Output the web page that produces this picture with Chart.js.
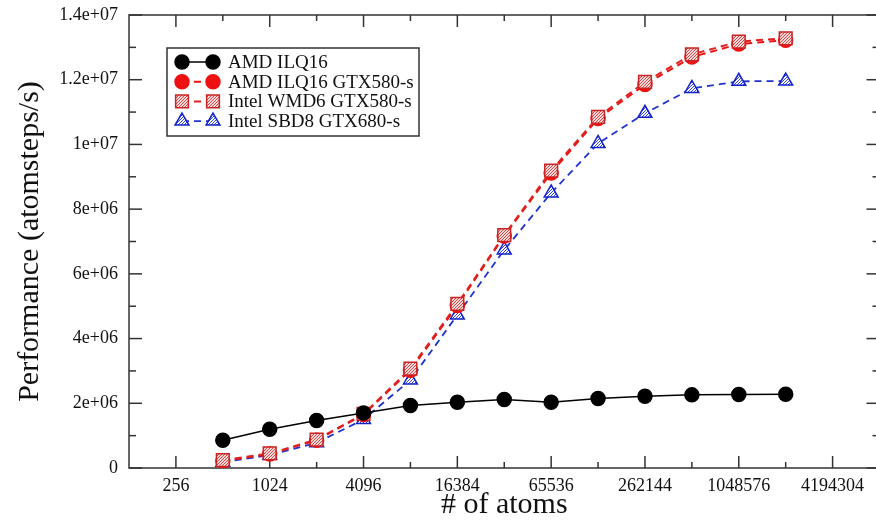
<!DOCTYPE html>
<html>
<head>
<meta charset="utf-8">
<script src="https://cdn.jsdelivr.net/npm/chart.js@4"></script>
<style>
  html, body { margin: 0; padding: 0; background: #fff; overflow: hidden; }
  #wrap { position: absolute; left: 0; top: 0; }
</style>
</head>
<body>
<div id="wrap"><canvas id="perfChart" width="890" height="520"></canvas></div>
<script>
// Chart data
const atoms = [512, 1024, 2048, 4096, 8192, 16384, 32768, 65536, 131072, 262144, 524288, 1048576, 2097152];
const amdIlq16 = [0.86e6, 1.2e6, 1.47e6, 1.7e6, 1.93e6, 2.03e6, 2.12e6, 2.03e6, 2.15e6, 2.22e6, 2.26e6, 2.27e6, 2.28e6];
const amdIlq16Gtx580 = [0.22e6, 0.43e6, 0.86e6, 1.65e6, 3.02e6, 5.02e6, 7.17e6, 9.12e6, 10.8e6, 11.85e6, 12.7e6, 13.1e6, 13.22e6];
const intelWmd6Gtx580 = [0.24e6, 0.45e6, 0.88e6, 1.67e6, 3.07e6, 5.07e6, 7.2e6, 9.19e6, 10.85e6, 11.93e6, 12.78e6, 13.18e6, 13.28e6];
const intelSbd8Gtx680 = [0.18e6, 0.4e6, 0.78e6, 1.5e6, 2.72e6, 4.73e6, 6.74e6, 8.5e6, 10.03e6, 10.96e6, 11.73e6, 11.95e6, 11.96e6];

const seriesNames = ['AMD ILQ16', 'AMD ILQ16 GTX580-s', 'Intel WMD6 GTX580-s', 'Intel SBD8 GTX680-s'];

// Axis ticks
const xTicks = [256, 1024, 4096, 16384, 65536, 262144, 1048576, 4194304];
const xTickLabels = ['256', '1024', '4096', '16384', '65536', '262144', '1048576', '4194304'];
const xMinorTicks = [512, 2048, 8192, 32768, 131072, 524288, 2097152];
const yTicks = [0, 2e6, 4e6, 6e6, 8e6, 10e6, 12e6, 14e6];
const yTickLabels = ['0', '2e+06', '4e+06', '6e+06', '8e+06', '1e+07', '1.2e+07', '1.4e+07'];
const yMinorTicks = [1e6, 3e6, 5e6, 7e6, 9e6, 11e6, 13e6];

const SERIF = "'Liberation Serif', 'DejaVu Serif', serif";

// Small fill patterns for the hatched markers
function makePattern(bg, fg, cells) {
    const c = document.createElement('canvas');
    c.width = 3; c.height = 3;
    const g = c.getContext('2d');
    g.fillStyle = bg;
    g.fillRect(0, 0, 3, 3);
    g.fillStyle = fg;
    cells.forEach(([px, py]) => g.fillRect(px, py, 1, 1));
    return g.createPattern(c, 'repeat');
}
const squareFill = makePattern('#f8dada', '#d04848', [[0, 0], [2, 1], [1, 2]]);
const triFill = makePattern('#ffffff', '#3344dd', [[0, 2], [1, 1], [2, 0]]);

function makeDataset(label, values, opts) {
    return Object.assign({
        label: label,
        data: atoms.map((a, i) => ({ x: a, y: values[i] })),
        fill: false,
        tension: 0,
        pointBorderWidth: 1.5
    }, opts);
}

const datasets = [
    makeDataset(seriesNames[0], amdIlq16, {
        borderColor: '#000', backgroundColor: '#000', borderWidth: 1.5,
        pointStyle: 'circle', pointRadius: 7, pointBackgroundColor: '#000', pointBorderColor: '#000', order: 0
    }),
    makeDataset(seriesNames[1], amdIlq16Gtx580, {
        borderColor: '#ee1111', backgroundColor: '#ee1111', borderWidth: 2, borderDash: [7, 5],
        pointStyle: 'circle', pointRadius: 7, pointBackgroundColor: '#ee1111', pointBorderColor: '#ee1111', order: 2
    }),
    makeDataset(seriesNames[2], intelWmd6Gtx580, {
        borderColor: '#dd2222', backgroundColor: squareFill, borderWidth: 2, borderDash: [7, 5],
        pointStyle: 'rect', pointRadius: 9, pointBackgroundColor: squareFill, pointBorderColor: '#cc2222', order: 1
    }),
    makeDataset(seriesNames[3], intelSbd8Gtx680, {
        borderColor: '#2233cc', backgroundColor: triFill, borderWidth: 1.8, borderDash: [7, 5],
        pointStyle: 'triangle', pointRadius: 8, pointBackgroundColor: triFill, pointBorderColor: '#1122cc', order: 3
    })
];

// Frame with inward ticks on all four sides
const frameTicks = {
    id: 'frameTicks',
    beforeDatasetsDraw(chart) {
        const { ctx, chartArea: a, scales: { x, y } } = chart;
        const line = (x1, y1, x2, y2) => { ctx.beginPath(); ctx.moveTo(x1, y1); ctx.lineTo(x2, y2); ctx.stroke(); };
        ctx.save();
        ctx.strokeStyle = '#333';
        ctx.lineWidth = 1.5;
        ctx.strokeRect(a.left, a.top, a.right - a.left, a.bottom - a.top);
        xTicks.forEach(v => { const p = x.getPixelForValue(v); line(p, a.bottom, p, a.bottom - 12); line(p, a.top, p, a.top + 12); });
        xMinorTicks.forEach(v => { const p = x.getPixelForValue(v); line(p, a.bottom, p, a.bottom - 6); line(p, a.top, p, a.top + 6); });
        yTicks.forEach(v => { const p = y.getPixelForValue(v); line(a.left, p, a.left + 13, p); line(a.right, p, a.right - 13, p); });
        yMinorTicks.forEach(v => { const p = y.getPixelForValue(v); line(a.left, p, a.left + 7, p); line(a.right, p, a.right - 7, p); });
        ctx.restore();
    }
};

function drawMarker(ctx, ds, cx, cy) {
    const r = ds.pointRadius;
    ctx.beginPath();
    if (ds.pointStyle === 'circle') {
        ctx.arc(cx, cy, r, 0, Math.PI * 2);
    } else if (ds.pointStyle === 'rect') {
        const s = r * Math.SQRT1_2;
        ctx.rect(cx - s, cy - s, 2 * s, 2 * s);
    } else {
        ctx.moveTo(cx, cy - r);
        ctx.lineTo(cx + r * 0.866, cy + r * 0.5);
        ctx.lineTo(cx - r * 0.866, cy + r * 0.5);
        ctx.closePath();
    }
    ctx.fillStyle = ds.pointBackgroundColor;
    ctx.fill();
    ctx.setLineDash([]);
    ctx.lineWidth = ds.pointBorderWidth;
    ctx.strokeStyle = ds.pointBorderColor;
    ctx.stroke();
}

// Boxed legend: marker, line, marker, then text
const boxLegend = {
    id: 'boxLegend',
    afterDraw(chart) {
        const ctx = chart.ctx;
        const box = { left: 167, top: 48, width: 252, height: 88 };
        ctx.save();
        ctx.fillStyle = '#fff';
        ctx.fillRect(box.left, box.top, box.width, box.height);
        ctx.strokeStyle = '#333';
        ctx.lineWidth = 1.5;
        ctx.strokeRect(box.left, box.top, box.width, box.height);
        chart.data.datasets.forEach((ds, i) => {
            const rowY = 62 + i * 19.7;
            ctx.beginPath();
            ctx.setLineDash(ds.borderDash || []);
            ctx.strokeStyle = ds.borderColor;
            ctx.lineWidth = ds.borderWidth;
            ctx.moveTo(182, rowY);
            ctx.lineTo(213, rowY);
            ctx.stroke();
            drawMarker(ctx, ds, 182, rowY);
            drawMarker(ctx, ds, 213, rowY);
            ctx.fillStyle = '#111';
            ctx.font = '19px ' + SERIF;
            ctx.textBaseline = 'middle';
            ctx.textAlign = 'left';
            ctx.fillText(ds.label, 228, rowY + 1);
        });
        ctx.restore();
    }
};

const ctx = document.getElementById('perfChart').getContext('2d');
const perfChart = new Chart(ctx, {
    type: 'line',
    data: { datasets: datasets },
    options: {
        responsive: false,
        animation: false,
        layout: { padding: { top: 15, right: 4, left: 0, bottom: 0 } },
        plugins: {
            legend: { display: false },
            tooltip: { enabled: false }
        },
        scales: {
            x: {
                type: 'logarithmic',
                min: 128,
                max: 8388608,
                grid: { display: false, drawTicks: false },
                border: { display: false },
                afterBuildTicks: scale => { scale.ticks = xTicks.map(v => ({ value: v })); },
                afterFit: scale => {
                    scale.height = 52;
                    scale.paddingLeft = 0;
                    scale.paddingRight = 0;
                },
                ticks: {
                    autoSkip: false,
                    maxRotation: 0,
                    padding: 7,
                    color: '#111',
                    font: { family: SERIF, size: 18 },
                    callback: (v) => xTickLabels[xTicks.indexOf(v)]
                },
                title: {
                    display: true,
                    text: '# of atoms',
                    color: '#111',
                    font: { family: SERIF, size: 30, lineHeight: 1 },
                    padding: { top: 0, bottom: 0 }
                }
            },
            y: {
                type: 'linear',
                min: 0,
                max: 14e6,
                grid: { display: false, drawTicks: false },
                border: { display: false },
                afterBuildTicks: scale => { scale.ticks = yTicks.map(v => ({ value: v })); },
                afterFit: scale => {
                    scale.width = 129;
                    scale.paddingTop = 0;
                    scale.paddingBottom = 0;
                },
                ticks: {
                    padding: 11,
                    color: '#111',
                    font: { family: SERIF, size: 18 },
                    callback: (v) => yTickLabels[yTicks.indexOf(v)]
                },
                title: {
                    display: true,
                    text: 'Performance (atomsteps/s)',
                    color: '#111',
                    font: { family: SERIF, size: 30, lineHeight: 1.2 },
                    padding: { top: 12, bottom: 0 }
                }
            }
        }
    },
    plugins: [frameTicks, boxLegend]
});
</script>
</body>
</html>
